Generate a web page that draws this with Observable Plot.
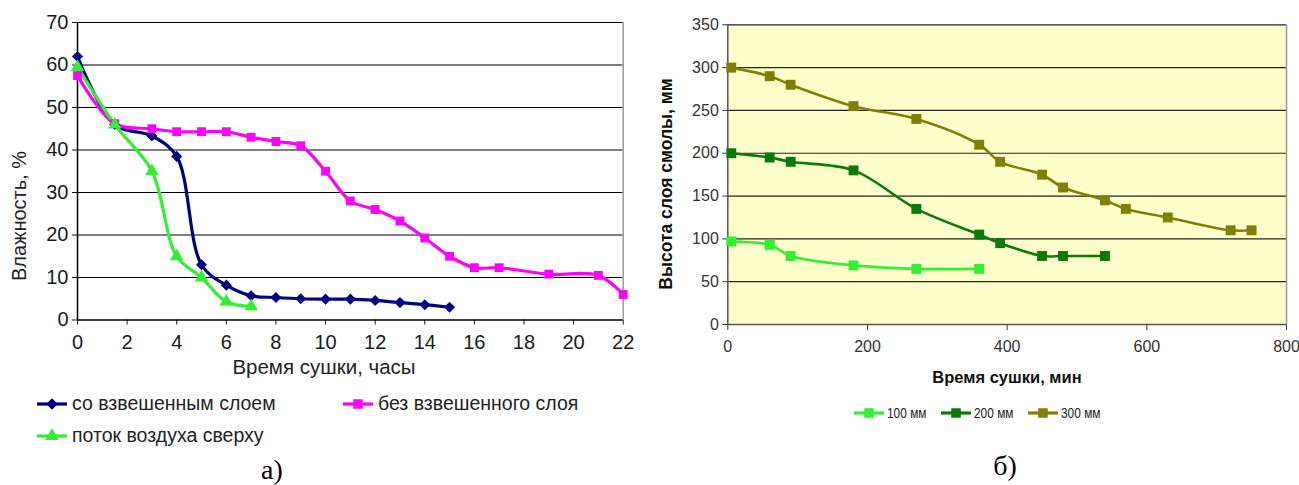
<!DOCTYPE html>
<html><head><meta charset="utf-8">
<script src="https://cdn.jsdelivr.net/npm/d3@7"></script>
<script src="https://cdn.jsdelivr.net/npm/@observablehq/plot@0.6"></script>
<style>
body{margin:0;background:#fff;}
#root{position:relative;width:1299px;height:485px;overflow:hidden;font-family:"Liberation Sans",Arial,sans-serif;}
.abs{position:absolute;white-space:nowrap;line-height:1;}
.plot{position:absolute;top:0;}
</style></head><body><div id="root"></div>
<script>
// ---- Chart a) data ----
const hoursA = [0,1.5,3,4,5,6,7,8,9,10,11,12,13,14,15];
const moistA = [62,46,43.3,38.5,13,8.2,5.7,5.3,5,4.9,4.9,4.6,4.1,3.6,3];
const hoursB = [0,1.5,3,4,5,6,7,8,9,10,11,12,13,14,15,16,17,19,21,22];
const moistB = [57.5,46.2,45,44.3,44.3,44.3,43,42,41,35,28,26,23.3,19.3,15,12.3,12.3,10.8,10.5,6];
const hoursC = [0,1.5,3,4,5,6,7];
const moistC = [59.5,46,35,15,10,4.3,3.2];
const seriesLeft = ["со взвешенным слоем","без взвешенного слоя","поток воздуха сверху"];
const colorsLeft = ["#000080","#ff00ff","#33ee33"];
const symbolsLeft = ["diamond2","square","triangle"];
const xTicksLeft = [0,2,4,6,8,10,12,14,16,18,20,22];
const yTicksLeft = [0,10,20,30,40,50,60,70];

// ---- Chart б) data ----
const min100 = [5,60,90,180,270,360];
const h100 = [97,93,80,69,65,65];
const min200 = [5,60,90,180,270,360,390,450,480,540];
const h200 = [200,195,190,180,135,105,95,80,80,80];
const min300 = [5,60,90,180,270,360,390,450,480,540,570,630,720,750];
const h300 = [300,290,280,255,240,210,190,175,160,145,135,125,110,110];
const seriesRight = ["100 мм","200 мм","300 мм"];
const colorsRight = ["#33ee33","#0a7a0a","#808000"];
const xTicksRight = [0,200,400,600,800];
const yTicksRight = [0,50,100,150,200,250,300,350];

const root = document.getElementById("root");
const font = "'Liberation Sans', Arial, sans-serif";

const zip = (xs, ys, s) => xs.map((x,i)=>({t:x, v:ys[i], s}));
const rowsLeft = [
  ...zip(hoursA, moistA, seriesLeft[0]),
  ...zip(hoursB, moistB, seriesLeft[1]),
  ...zip(hoursC, moistC, seriesLeft[2])
];
const rowsRight = [
  ...zip(min100, h100, seriesRight[0]),
  ...zip(min200, h200, seriesRight[1]),
  ...zip(min300, h300, seriesRight[2])
];

const left = Plot.plot({
  width:640, height:350,
  marginLeft:77, marginRight:17.3, marginTop:22, marginBottom:30.5,
  style:{fontFamily:font, fontSize:"20px", color:"#1a1a1a", background:"transparent", overflow:"visible"},
  x:{domain:[0,22], ticks:xTicksLeft, label:null, tickSize:5, tickPadding:10},
  y:{domain:[0,70], ticks:yTicksLeft, label:null, tickSize:5, tickPadding:4},
  color:{domain:seriesLeft, range:colorsLeft},
  symbol:{domain:seriesLeft, range:symbolsLeft},
  marks:[
    Plot.ruleY(yTicksLeft.slice(1), {stroke:"#000", strokeWidth:1.2}),
    Plot.ruleX([22], {stroke:"#999", strokeWidth:1.5}),
    Plot.ruleX([0], {stroke:"#000", strokeWidth:1.5}),
    Plot.ruleY([0], {stroke:"#000", strokeWidth:1.5}),
    Plot.line(rowsLeft, {x:"t", y:"v", z:"s", stroke:"s", curve:"catmull-rom", strokeWidth:3.2}),
    Plot.dot(rowsLeft, {x:"t", y:"v", fill:"s", symbol:"s", r:5, stroke:null})
  ]
});
left.classList.add("plot");
left.style.left = "0px";
root.appendChild(left);

const right = Plot.plot({
  width:659, height:350,
  marginLeft:87.3, marginRight:13, marginTop:24.3, marginBottom:26,
  style:{fontFamily:font, fontSize:"16px", color:"#333", background:"transparent", overflow:"visible"},
  x:{domain:[0,800], ticks:xTicksRight, label:null, tickSize:6, tickPadding:10},
  y:{domain:[0,350], ticks:yTicksRight, label:null, tickSize:5, tickPadding:4},
  color:{domain:seriesRight, range:colorsRight},
  marks:[
    Plot.frame({fill:"#ffffcc", stroke:null}),
    Plot.ruleY(yTicksRight.slice(1), {stroke:"#222", strokeWidth:1.2}),
    Plot.ruleX([800], {stroke:"#999", strokeWidth:1.5}),
    Plot.ruleX([0], {stroke:"#555", strokeWidth:1.5}),
    Plot.ruleY([0], {stroke:"#555", strokeWidth:1.5}),
    Plot.line(rowsRight, {x:"t", y:"v", z:"s", stroke:"s", curve:"catmull-rom", strokeWidth:2.6}),
    Plot.dot(rowsRight, {x:"t", y:"v", fill:"s", symbol:"square", r:5.6, stroke:null})
  ]
});
right.classList.add("plot");
right.style.left = "640px";
root.appendChild(right);

function text(str, x, y, css) {
  const d = document.createElement("div");
  d.className = "abs";
  d.textContent = str;
  d.style.left = x + "px"; d.style.top = y + "px";
  Object.assign(d.style, css || {});
  root.appendChild(d);
  return d;
}
function swatch(x, y, color, sym, w) {
  const s = d3.create("svg").attr("width", w).attr("height", 14)
    .style("position","absolute").style("left",(x - w/2)+"px").style("top",(y-7)+"px");
  s.append("line").attr("x1",0).attr("x2",w).attr("y1",7).attr("y2",7).attr("stroke",color).attr("stroke-width",3.2);
  const sy = {diamond2:d3.symbolDiamond2, square:d3.symbolSquare, triangle:d3.symbolTriangle}[sym];
  s.append("path").attr("d", d3.symbol(sy, sym==="square"?90:(sym==="triangle"?80:85))()).attr("transform",`translate(${w/2},7)`).attr("fill",color);
  root.appendChild(s.node());
}

// chart a) texts
text("Влажность, %", 19, 216, {fontSize:"20px", color:"#222", transform:"translate(-50%,-50%) rotate(-90deg)"});
text("Время сушки, часы", 324, 367, {fontSize:"20.5px", color:"#222", transform:"translate(-50%,-50%)"});
// legend a)
const legA = [[52,404,0],[358,404,1],[52,436,2]];
legA.forEach(([x,y,i])=>{
  swatch(x, y, colorsLeft[i], symbolsLeft[i], 30);
  text(seriesLeft[i], x+20, y, {fontSize:"19.5px", color:"#222", transform:"translateY(-50%)"});
});
text("а)", 272, 470, {fontSize:"28px", fontFamily:"'Liberation Serif','Times New Roman',serif", color:"#000", transform:"translate(-50%,-50%)"});

// chart б) texts
text("Высота слоя смолы, мм", 667, 184, {fontSize:"17.5px", fontWeight:"bold", color:"#111", transform:"translate(-50%,-50%) rotate(-90deg)"});
text("Время сушки, мин", 1007, 377, {fontSize:"16.5px", fontWeight:"bold", color:"#111", transform:"translate(-50%,-50%)"});
const legB = [[869,413,0],[956,413,1],[1043,413,2]];
legB.forEach(([x,y,i])=>{
  swatch(x, y, colorsRight[i], "square", 30);
  text(seriesRight[i], x+18, y, {fontSize:"14px", color:"#222", transform:"translateY(-50%) scaleX(0.85)", transformOrigin:"left center"});
});
text("б)", 1005, 466, {fontSize:"28px", fontFamily:"'Liberation Serif','Times New Roman',serif", color:"#000", transform:"translate(-50%,-50%)"});
</script></body></html>
